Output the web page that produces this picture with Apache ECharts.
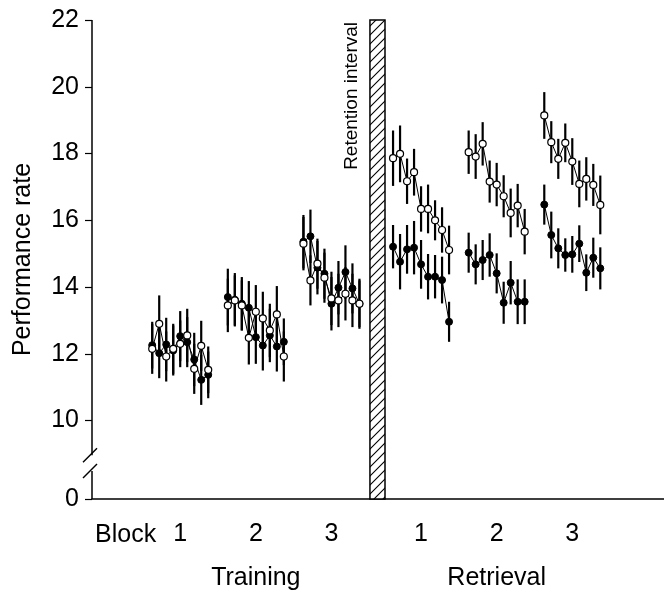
<!DOCTYPE html>
<html>
<head>
<meta charset="utf-8">
<script src="https://cdn.jsdelivr.net/npm/echarts@6/dist/echarts.min.js"></script>
<style>
  html, body { margin: 0; padding: 0; background: #fff; }
  #chart { width: 664px; height: 593px; }
</style>
</head>
<body>
<div id="chart"></div>
<script>
const blockLabels = ["1", "2", "3"];
const phaseLabels = ["Training", "Retrieval"];
const yTicks = [0, 10, 12, 14, 16, 18, 20, 22];

// 9 sessions per block, open circles and filled circles
const trainingOpen = [
  [12.15, 12.9, 11.92, 12.15, 12.3, 12.55, 11.55, 12.24, 11.52],
  [13.45, 13.6, 13.45, 12.48, 13.26, 13.06, 12.7, 13.18, 11.92],
  [15.3, 14.2, 14.7, 14.28, 13.66, 13.6, 13.8, 13.6, 13.5]
];
const trainingFilled = [
  [12.26, 12.02, 12.28, 12.1, 12.53, 12.35, 11.83, 11.22, 11.37],
  [13.7, 13.62, 13.5, 13.38, 12.5, 12.25, 12.55, 12.22, 12.36],
  [15.36, 15.52, 14.58, 14.4, 13.5, 13.98, 14.45, 13.96, 13.5]
];
const retrievalOpen = [
  [17.86, 17.99, 17.17, 17.44, 16.34, 16.34, 16.0, 15.71, 15.11],
  [18.04, 17.91, 18.29, 17.16, 17.07, 16.72, 16.22, 16.44, 15.66],
  [19.14, 18.34, 17.84, 18.32, 17.76, 17.09, 17.24, 17.06, 16.46]
];
const retrievalFilled = [
  [15.21, 14.76, 15.13, 15.18, 14.68, 14.31, 14.31, 14.21, 12.96],
  [15.03, 14.68, 14.81, 14.96, 14.41, 13.53, 14.13, 13.56, 13.56],
  [16.47, 15.56, 15.16, 14.96, 14.98, 15.3, 14.43, 14.88, 14.56]
];

// error bar half lengths
const trainingOpenErr = [
  [0.75, 0.85, 0.75, 0.75, 0.7, 0.8, 0.75, 0.75, 0.7],
  [0.8, 0.75, 0.75, 0.8, 0.8, 0.8, 0.8, 0.85, 0.75],
  [0.8, 0.75, 0.75, 0.75, 0.8, 0.8, 0.8, 0.8, 0.75]
];
const trainingFilledErr = [
  [0.7, 0.75, 0.8, 0.75, 0.75, 0.75, 0.8, 0.75, 0.7],
  [0.85, 0.8, 0.8, 0.8, 0.8, 0.75, 0.8, 0.75, 0.7],
  [0.8, 0.8, 0.8, 0.75, 0.8, 0.8, 0.8, 0.75, 0.7]
];
const retrievalOpenErr = [
  [0.83, 0.85, 0.68, 0.7, 0.68, 0.73, 0.6, 0.68, 0.73],
  [0.65, 0.67, 0.65, 0.63, 0.65, 0.63, 0.73, 0.65, 0.68],
  [0.7, 0.63, 0.6, 0.58, 0.7, 0.7, 0.65, 0.63, 0.88]
];
const retrievalFilledErr = [
  [0.65, 0.83, 0.73, 0.8, 0.73, 0.68, 0.65, 0.7, 0.6],
  [0.6, 0.6, 0.6, 0.65, 0.6, 0.63, 0.65, 0.67, 0.67],
  [0.6, 0.7, 0.6, 0.5, 0.55, 0.55, 0.55, 0.6, 0.63]
];

// layout of the x axis (one unit = one session)
const phaseStart = [8.6, 43.0];
const blockSpan = 10.8;
const retention = [39.7, 41.85];
const xMax = 81.7;

const font = "Liberation Sans, Arial, Helvetica, sans-serif";
const fs = 25;
const xOf = (phase, block, s) => phaseStart[phase] + block * blockSpan + s;
const blockCenter = (phase, block) => xOf(phase, block, 4);

const centers = [];
[0, 1].forEach((p) => blockLabels.forEach((l, b) => centers.push({ x: blockCenter(p, b), label: l })));

// hatch pattern for retention interval
const pat = document.createElement("canvas");
pat.width = 9;
pat.height = 9;
const g = pat.getContext("2d");
g.fillStyle = "#fff";
g.fillRect(0, 0, 9, 9);
g.strokeStyle = "#000";
g.lineWidth = 1.1;
g.beginPath();
g.moveTo(0, 9); g.lineTo(9, 0);
g.moveTo(-2, 2); g.lineTo(2, -2);
g.moveTo(7, 11); g.lineTo(11, 7);
g.stroke();

const groups = [
  { phase: 0, open: true, means: trainingOpen, errs: trainingOpenErr },
  { phase: 0, open: false, means: trainingFilled, errs: trainingFilledErr },
  { phase: 1, open: true, means: retrievalOpen, errs: retrievalOpenErr },
  { phase: 1, open: false, means: retrievalFilled, errs: retrievalFilledErr }
];

const errData = [];
const lineSeries = [];
groups.forEach((grp) => {
  grp.means.forEach((vals, b) => {
    vals.forEach((v, s) => {
      const e = grp.errs[b][s];
      errData.push([xOf(grp.phase, b, s), v - e, v + e]);
    });
    lineSeries.push({
      type: "line",
      z: grp.open ? 4 : 3,
      symbol: "circle",
      symbolSize: 7,
      showSymbol: true,
      animation: false,
      silent: true,
      lineStyle: { color: "#000", width: 1 },
      itemStyle: grp.open
        ? { color: "#fff", borderColor: "#000", borderWidth: 1.2 }
        : { color: "#000", borderColor: "#000", borderWidth: 1 },
      data: vals.map((v, s) => [xOf(grp.phase, b, s), v])
    });
  });
});

const chart = echarts.init(document.getElementById("chart"));

const option = {
  animation: false,
  grid: { left: 92, right: 0, top: 20, bottom: 94 },
  xAxis: {
    type: "value",
    min: 0,
    max: xMax,
    splitLine: { show: false },
    axisTick: { show: false },
    axisLine: { show: true, onZero: false, lineStyle: { color: "#000", width: 1.5 } },
    axisLabel: {
      customValues: centers.map((c) => c.x),
      formatter: (v) => {
        const c = centers.find((c) => Math.abs(c.x - v) < 0.01);
        return c ? c.label : "";
      },
      color: "#000",
      fontSize: fs,
      fontFamily: font,
      margin: 23
    }
  },
  yAxis: {
    type: "value",
    min: 0,
    max: 22,
    interval: 2,
    breaks: [{ start: 0.5, end: 9.5, gap: "9.4%" }],
    breakArea: { show: false },
    splitLine: { show: false },
    axisLine: { show: false },
    axisTick: {
      show: true,
      length: 7,
      lineStyle: { color: "#000", width: 1.2 },
      customValues: yTicks
    },
    axisLabel: {
      customValues: yTicks,
      formatter: (v) => (yTicks.includes(v) ? String(v) : ""),
      color: "#000",
      fontSize: fs,
      fontFamily: font,
      margin: 13
    },
    name: "Performance rate",
    nameLocation: "middle",
    nameGap: 56,
    nameTextStyle: { color: "#000", fontSize: fs, fontFamily: font }
  },
  series: [
    {
      type: "custom",
      z: 2,
      silent: true,
      animation: false,
      renderItem: (params, api) => {
        const top = api.coord([api.value(0), api.value(2)]);
        const bot = api.coord([api.value(0), api.value(1)]);
        return {
          type: "line",
          shape: { x1: top[0], y1: top[1], x2: bot[0], y2: bot[1] },
          style: { stroke: "#000", lineWidth: 2.2 }
        };
      },
      encode: { x: 0, y: [1, 2] },
      data: errData,
      markArea: {
        silent: true,
        itemStyle: { color: { image: pat, repeat: "repeat" }, borderColor: "#000", borderWidth: 1.5 },
        data: [[{ xAxis: retention[0], yAxis: 0 }, { xAxis: retention[1], yAxis: 22 }]]
      }
    },
    ...lineSeries
  ]
};

chart.setOption(option);

// axis line with break marks, and the extra texts
const px = (x, y) => chart.convertToPixel({ gridIndex: 0 }, [x, y]);
const topPt = px(0, 22);
const zeroPt = px(0, 0);
const brHi = px(0, 9.5)[1];
const brLo = px(0, 0.5)[1];
const ax = topPt[0];
const s1 = brHi + (brLo - brHi) * 0.4;
const s2 = brHi + (brLo - brHi) * 0.75;
const axisY = zeroPt[1];
const stroke = { stroke: "#000", lineWidth: 1.5 };

const textStyle = (extra) => Object.assign({ fill: "#000", fontSize: fs, fontFamily: font }, extra);

chart.setOption({
  graphic: [
    { type: "line", shape: { x1: ax, y1: topPt[1], x2: ax, y2: s1 }, style: stroke },
    { type: "line", shape: { x1: ax, y1: s2, x2: ax, y2: axisY }, style: stroke },
    { type: "line", shape: { x1: ax - 9, y1: s1 + 7, x2: ax + 5, y2: s1 - 7 }, style: stroke },
    { type: "line", shape: { x1: ax - 9, y1: s2 + 7, x2: ax + 5, y2: s2 - 7 }, style: stroke },
    {
      type: "text",
      x: px(blockCenter(0, 0), 0)[0] - 24,
      y: axisY + 36,
      style: textStyle({ text: "Block", align: "right", verticalAlign: "middle" })
    },
    {
      type: "text",
      x: px(blockCenter(0, 1), 0)[0],
      y: axisY + 79,
      style: textStyle({ text: phaseLabels[0], align: "center", verticalAlign: "middle" })
    },
    {
      type: "text",
      x: px(blockCenter(1, 1), 0)[0],
      y: axisY + 79,
      style: textStyle({ text: phaseLabels[1], align: "center", verticalAlign: "middle" })
    },
    {
      type: "text",
      x: px(retention[0], 22)[0] - 18,
      y: topPt[1] + 2,
      rotation: Math.PI / 2,
      style: textStyle({ text: "Retention interval", fontSize: 19, align: "right", verticalAlign: "middle" })
    }
  ]
});
</script>
</body>
</html>
